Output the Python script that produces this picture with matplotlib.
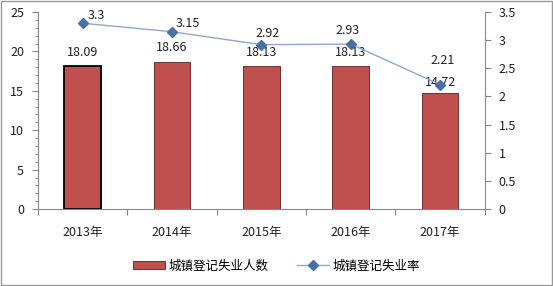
import matplotlib
matplotlib.use("Agg")
import matplotlib.pyplot as plt
from matplotlib.ticker import MultipleLocator, FuncFormatter
from matplotlib.patches import Patch
from matplotlib.lines import Line2D
import numpy as np

plt.rcParams['font.family'] = ['Noto Sans CJK SC', 'DejaVu Sans']

years = ['2013年', '2014年', '2015年', '2016年', '2017年']
unemployed = [18.09, 18.66, 18.13, 18.13, 14.72]
rate = [3.3, 3.15, 2.92, 2.93, 2.21]
bar_label = '城镇登记失业人数'
line_label = '城镇登记失业率'

FS = 9
TXT = '#222222'
fig = plt.figure(figsize=(5.53, 2.86), dpi=100)
ax = fig.add_axes([0.0687, 0.269, 0.808, 0.689])
x = np.arange(len(years))
bars = ax.bar(x, unemployed, width=0.41, color='#C0504D', edgecolor='#5a1f1d', linewidth=0.6)
bars[0].set_edgecolor('black'); bars[0].set_linewidth(1.3)
ax.set_xlim(-0.5, len(years) - 0.5)
ax.set_ylim(0, 25)
ax.yaxis.set_major_locator(MultipleLocator(5))
ax.yaxis.set_minor_locator(MultipleLocator(1))
ax.set_xticks(np.arange(-0.5, len(years), 1), minor=False)
ax.set_xticklabels([])
ax.set_xticks(x, minor=True)
ax.set_xticklabels(years, minor=True)
ax.tick_params(axis='x', which='major', length=4, color='#888888')
ax.tick_params(axis='x', which='minor', length=0, labelsize=FS, pad=12, colors=TXT)
ax.tick_params(axis='y', which='major', length=4, color='#888888', labelsize=FS, labelcolor=TXT, pad=6)
ax.tick_params(axis='y', which='minor', length=2, color='#888888')
for s in ['top', 'right']:
    ax.spines[s].set_visible(False)
ax.spines['left'].set_color('#888888')
ax.spines['bottom'].set_color('#888888')
bar_offsets = [1.78, 1.78, 1.78, 1.78, 1.4]
for xi, v, o in zip(x, unemployed, bar_offsets):
    ax.text(xi, v + o, f'{v:g}', ha='center', va='center', fontsize=FS, color=TXT)

ax2 = ax.twinx()
ax2.set_ylim(0, 3.5)
ax2.yaxis.set_major_locator(MultipleLocator(0.5))
ax2.yaxis.set_major_formatter(FuncFormatter(lambda v, p: f'{v:g}'))
ax2.plot(x, rate, color='#8FA8CC', linewidth=1.0, marker='D', markersize=5.5,
         markerfacecolor='#4A6FA5', markeredgecolor='#4A6FA5')
for s in ['top', 'left', 'bottom']:
    ax2.spines[s].set_visible(False)
ax2.spines['right'].set_color('#888888')
ax2.tick_params(axis='y', length=4, color='#888888', labelsize=FS, labelcolor=TXT, pad=6)
dx = [0.15, 0.18, 0.07, -0.03, 0.03]
dy = [0.14, 0.14, 0.2, 0.25, 0.43]
for xi, v, ox, oy in zip(x, rate, dx, dy):
    ax2.text(xi + ox, v + oy, f'{v:g}', ha='center', va='center', fontsize=FS, color=TXT)

handles = [Patch(facecolor='#C0504D', edgecolor='#5a1f1d', linewidth=0.6),
           Line2D([], [], color='#8FA8CC', linewidth=1.0, marker='D', markersize=5,
                  markerfacecolor='#4A6FA5', markeredgecolor='#4A6FA5')]
fig.legend(handles, [bar_label, line_label], loc='center', bbox_to_anchor=(0.5, 0.07), ncol=2,
           frameon=False, fontsize=FS, handlelength=2.6, columnspacing=2.2, handleheight=0.7,
           handletextpad=0.3)

border = plt.Rectangle((0.001, 0.004), 0.997, 0.994, transform=fig.transFigure, fill=False,
                       edgecolor='#999999', linewidth=1.0)
fig.patches.append(border)
fig.savefig('out.png', dpi=100)
